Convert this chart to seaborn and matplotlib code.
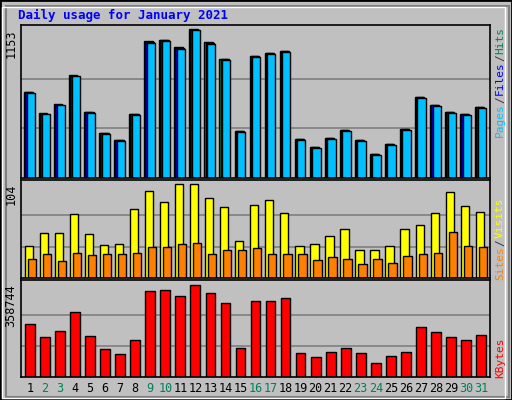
import numpy as np
import pandas as pd
import seaborn as sns
import matplotlib.pyplot as plt
from matplotlib.patches import Rectangle

days = list(range(1, 32))
hits = [670, 506, 576, 802, 514, 351, 296, 499, 1060, 1075, 1013, 1153, 1052, 927, 366, 950,
        974, 989, 304, 241, 312, 374, 296, 187, 265, 382, 631, 569, 514, 499, 553]
files = [665, 500, 570, 795, 510, 347, 293, 495, 1055, 1070, 1008, 1148, 1047, 922, 362, 945,
         969, 984, 300, 238, 308, 370, 292, 184, 262, 378, 626, 564, 510, 495, 549]
pages = [660, 496, 566, 790, 506, 344, 290, 491, 1050, 1066, 1004, 1145, 1043, 918, 360, 940,
         965, 980, 298, 236, 305, 367, 290, 182, 260, 375, 622, 560, 506, 491, 545]
visits = [35, 50, 50, 71, 49, 36, 37, 76, 96, 84, 104, 104, 88, 78, 41, 81,
          86, 72, 35, 38, 46, 54, 31, 31, 35, 54, 59, 72, 95, 79, 73]
sites = [21, 27, 19, 28, 25, 26, 27, 28, 34, 34, 38, 39, 26, 31, 31, 33,
         26, 26, 26, 20, 23, 21, 16, 21, 17, 24, 27, 28, 51, 35, 34]
kbytes = [207000, 155000, 179000, 251000, 159000, 108000, 88000, 143000, 335000, 339000,
          315000, 358744, 327000, 287000, 112000, 295000, 295000, 307000, 92000, 76000,
          96000, 112000, 92000, 56000, 80000, 96000, 195000, 175000, 155000, 143000, 163000]
weekend = [2, 3, 9, 10, 16, 17, 23, 24, 30, 31]

BG = "#C0C0C0"
W, H = 512, 400
fig = plt.figure(figsize=(W / 100, H / 100), dpi=100, facecolor=BG)
fig.patches.append(Rectangle((0, 0), 1, 1, transform=fig.transFigure, fill=False,
                             edgecolor="black", linewidth=2))
fig.patches.append(Rectangle((2 / W, 2 / H), 1 - 9 / W, 1 - 9 / H, transform=fig.transFigure,
                             fill=False, edgecolor="white", linewidth=1))
fig.patches.append(Rectangle((6 / W, 3 / H), 1 - 9 / W, 1 - 9 / H, transform=fig.transFigure,
                             fill=False, edgecolor="#808080", linewidth=1.5, zorder=-1))
mono = "DejaVu Sans Mono"


def panel(top, bottom):
    ax = fig.add_axes([21 / W, 1 - bottom / H, 469 / W, (bottom - top) / H])
    ax.set_facecolor(BG)
    for s in ax.spines.values():
        s.set_color("black")
        s.set_linewidth(1.2)
    ax.set_yticks([])
    return ax


def series(ax, vals, offset, width, color):
    df = pd.DataFrame({"x": np.array(days) + offset, "y": vals})
    sns.barplot(data=df, x="x", y="y", native_scale=True, width=width, color=color,
                saturation=1, edgecolor="black", linewidth=1, ax=ax)
    ax.set_xlabel("")
    ax.set_ylabel("")


def grid(ax, vmax, pad):
    ax.set_ylim(0, vmax * pad)
    for f in (1 / 3, 2 / 3):
        ax.axhline(vmax * f, color="#808080", linewidth=1.2, zorder=0)
    ax.set_axisbelow(True)
    ax.text(-0.022, 1 / pad, str(vmax), transform=ax.transAxes, rotation=90,
            ha="center", va="top", fontsize=8.5, family=mono)


def finish(ax):
    ax.set_xlim(0.4, 31.6)
    ax.set_xticks([])


ax1 = panel(25, 178)
grid(ax1, max(hits), 1.03)
series(ax1, hits, -0.12, 0.55, "#008040")
series(ax1, files, -0.05, 0.55, "#0000FF")
series(ax1, pages, 0.05, 0.55, "#00C0FF")
finish(ax1)

ax2 = panel(180, 278)
grid(ax2, max(visits), 1.04)
series(ax2, visits, -0.08, 0.55, "#FFFF00")
series(ax2, sites, 0.12, 0.55, "#FF8000")
finish(ax2)

ax3 = panel(280, 377)
grid(ax3, max(kbytes), 1.05)
series(ax3, kbytes, 0, 0.65, "#FF0000")
finish(ax3)

for d in days:
    ax3.text(d, -0.12, str(d), transform=ax3.get_xaxis_transform(), ha="center", va="center",
             fontsize=8.5, family=mono, color="#00805C" if d in weekend else "black")

fig.text(18 / W, 1 - 15 / H, "Daily usage for January 2021", color="#0000FF",
         fontsize=9, fontweight="bold", family=mono, va="center")


def side(y_top, parts):
    y = y_top
    for txt, col in parts:
        fig.text(500 / W, 1 - y / H, txt, rotation=90, color=col, fontsize=8,
                 family=mono, ha="center", va="top")
        y += len(txt) * 6.9


side(27, [("Hits", "#00805C"), ("/", "#333333"), ("Files", "#0000FF"),
          ("/", "#333333"), ("Pages", "#00C0FF")])
side(198, [("Visits", "#FFFF00"), ("/", "#333333"), ("Sites", "#FF8000")])
side(338, [("KBytes", "#FF0000")])

fig.savefig("out.png", dpi=100, facecolor=BG)
